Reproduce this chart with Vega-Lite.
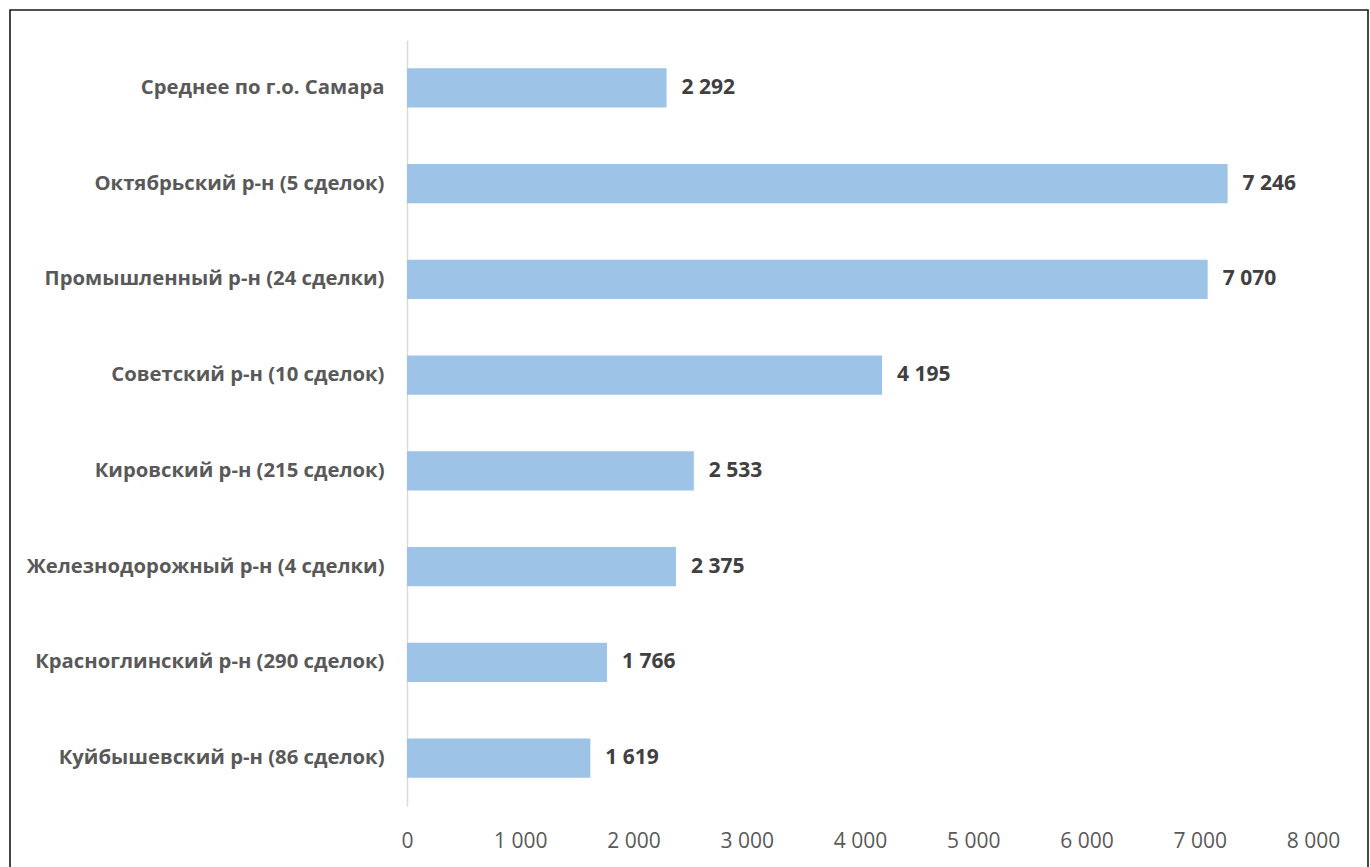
{
  "$schema": "https://vega.github.io/schema/vega-lite/v6.json",
  "autosize": "none",
  "padding": {"left": 10, "top": 10, "right": 2, "bottom": 0},
  "width": 1358,
  "height": 860,
  "background": "#ffffff",
  "config": {
    "view": {"stroke": "#1a1a1a", "strokeWidth": 1.6},
    "font": "Open Sans",
    "locale": {"number": {"decimal": ",", "thousands": " ", "grouping": [3], "currency": ["", " ₽"]}}
  },
  "data": {
    "values": [
      {"district": "Среднее по г.о. Самара", "price": 2292},
      {"district": "Октябрьский р-н (5 сделок)", "price": 7246},
      {"district": "Промышленный р-н (24 сделки)", "price": 7070},
      {"district": "Советский р-н (10 сделок)", "price": 4195},
      {"district": "Кировский р-н (215 сделок)", "price": 2533},
      {"district": "Железнодорожный р-н (4 сделки)", "price": 2375},
      {"district": "Красноглинский р-н (290 сделок)", "price": 1766},
      {"district": "Куйбышевский р-н (86 сделок)", "price": 1619}
    ]
  },
  "encoding": {
    "y": {
      "field": "district",
      "type": "nominal",
      "sort": null,
      "title": null,
      "scale": {"range": [30, 796], "paddingInner": 0.59, "paddingOuter": 0.295},
      "axis": {
        "orient": "left",
        "offset": -397,
        "domainColor": "#d9d9d9",
        "domainWidth": 1.5,
        "ticks": false,
        "labelPadding": 23,
        "labelFont": "Open Sans",
        "labelFontSize": 20.3,
        "labelFontWeight": "bold",
        "labelColor": "#595959",
        "labelLimit": 500
      }
    },
    "x": {
      "field": "price",
      "type": "quantitative",
      "title": null,
      "scale": {"domain": [-3505.5, 8485.7], "nice": false, "zero": false},
      "axis": {
        "orient": "bottom",
        "offset": -42,
        "values": [0, 1000, 2000, 3000, 4000, 5000, 6000, 7000, 8000],
        "format": ",d",
        "domain": false,
        "ticks": false,
        "grid": false,
        "labelPadding": 2,
        "labelFont": "Open Sans",
        "labelFontSize": 21,
        "labelColor": "#595959"
      }
    }
  },
  "layer": [
    {
      "mark": {"type": "bar", "color": "#9dc3e6"},
      "encoding": {"x2": {"datum": 0}}
    },
    {
      "mark": {"type": "text", "align": "left", "baseline": "middle", "dx": 15, "font": "Open Sans", "fontSize": 21, "fontWeight": "bold", "color": "#404040"},
      "encoding": {
        "text": {"field": "price", "type": "quantitative", "format": ",d"}
      }
    }
  ]
}
